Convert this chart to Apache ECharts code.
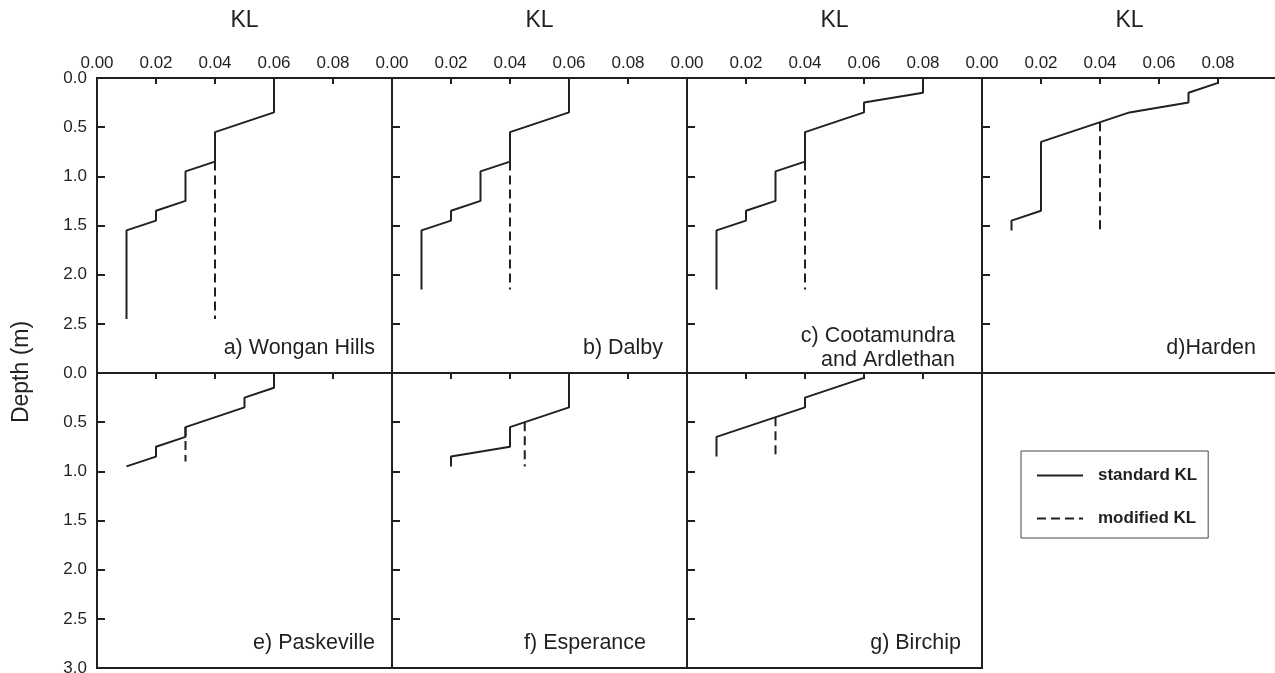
<!DOCTYPE html>
<html>
<head>
<meta charset="utf-8">
<title>KL profiles</title>
<script src="https://cdn.jsdelivr.net/npm/echarts@6/dist/echarts.min.js"></script>
<style>
  html, body { margin: 0; padding: 0; background: #fff; }
  #main { width: 1275px; height: 673px; }
</style>
</head>
<body>
<div id="main"></div>
<script>
// panel captions, top row a-d then bottom row e-g
var siteLabels = ['a) Wongan Hills', 'b) Dalby', 'c) Cootamundra\nand Ardlethan', 'd)Harden',
                  'e) Paskeville', 'f) Esperance', 'g) Birchip'];

// standard KL profiles, points are [KL, depth (m)]
var wonganStd = [[0.06, 0], [0.06, 0.35], [0.04, 0.55], [0.04, 0.85], [0.03, 0.95], [0.03, 1.25],
                 [0.02, 1.35], [0.02, 1.45], [0.01, 1.55], [0.01, 2.45]];
var dalbyStd = [[0.06, 0], [0.06, 0.35], [0.04, 0.55], [0.04, 0.85], [0.03, 0.95], [0.03, 1.25],
                [0.02, 1.35], [0.02, 1.45], [0.01, 1.55], [0.01, 2.15]];
var cootaStd = [[0.08, 0], [0.08, 0.15], [0.06, 0.25], [0.06, 0.35], [0.04, 0.55], [0.04, 0.85],
                [0.03, 0.95], [0.03, 1.25], [0.02, 1.35], [0.02, 1.45], [0.01, 1.55], [0.01, 2.15]];
var hardenStd = [[0.08, 0], [0.08, 0.05], [0.07, 0.15], [0.07, 0.25], [0.05, 0.35], [0.02, 0.65],
                 [0.02, 1.35], [0.01, 1.45], [0.01, 1.55]];
var paskeStd = [[0.06, 0], [0.06, 0.15], [0.05, 0.25], [0.05, 0.35], [0.03, 0.55], [0.03, 0.65],
                [0.02, 0.75], [0.02, 0.85], [0.01, 0.95]];
var esperStd = [[0.06, 0], [0.06, 0.35], [0.04, 0.55], [0.04, 0.75], [0.02, 0.85], [0.02, 0.95]];
var birchStd = [[0.06, 0], [0.06, 0.05], [0.04, 0.25], [0.04, 0.35], [0.01, 0.65], [0.01, 0.85]];

// modified KL, only where it leaves the standard profile
var wonganMod = [[0.04, 0.85], [0.04, 2.45]];
var dalbyMod = [[0.04, 0.85], [0.04, 2.15]];
var cootaMod = [[0.04, 0.85], [0.04, 2.15]];
var hardenMod = [[0.04, 0.45], [0.04, 1.55]];
var paskeMod = [[0.03, 0.55], [0.03, 0.9]];
var esperMod = [[0.045, 0.5], [0.045, 0.95]];
var birchMod = [[0.03, 0.45], [0.03, 0.85]];

var standardKL = [wonganStd, dalbyStd, cootaStd, hardenStd, paskeStd, esperStd, birchStd];
var modifiedKL = [wonganMod, dalbyMod, cootaMod, hardenMod, paskeMod, esperMod, birchMod];

// axis scales
var klMin = 0, klMax = 0.1, klStep = 0.02;
var depthMin = 0, depthMax = 3, depthStep = 0.5;

var ink = '#231f20';
var fontFam = '"Liberation Sans", Arial, Helvetica, sans-serif';

var panelLeft = [97, 392, 687, 982];
var panelTop = [78, 373];
var panelSize = 295;
// where each caption sits (right edge, middle)
var captionPos = [[375, 348], [663, 348], [955, 348], [1256, 348], [375, 643], [646, 643], [961, 643]];

var grids = [], xAxes = [], yAxes = [], series = [], graphics = [];

for (var i = 0; i < 7; i++) {
    var row = i < 4 ? 0 : 1;
    var col = i < 4 ? i : i - 4;
    grids.push({
        left: panelLeft[col],
        top: panelTop[row],
        width: panelSize,
        height: panelSize,
        show: true,
        borderColor: ink,
        borderWidth: 2,
        containLabel: false,
        outerBoundsMode: 'none'
    });
    xAxes.push({
        gridIndex: i,
        type: 'value',
        position: 'top',
        min: klMin,
        max: klMax,
        interval: klStep,
        name: row === 0 ? 'KL' : '',
        nameLocation: 'middle',
        nameGap: 46,
        nameTextStyle: { fontSize: 23, color: ink, fontFamily: fontFam },
        axisLine: { show: true, lineStyle: { color: ink, width: 2 } },
        axisTick: { show: true, inside: true, length: 6, lineStyle: { color: ink, width: 2 } },
        axisLabel: {
            show: row === 0,
            fontSize: 17,
            color: ink,
            fontFamily: fontFam,
            margin: 6,
            showMaxLabel: false,
            formatter: function (v) { return v.toFixed(2); }
        },
        splitLine: { show: false }
    });
    yAxes.push({
        gridIndex: i,
        type: 'value',
        inverse: true,
        min: depthMin,
        max: depthMax,
        interval: depthStep,
        axisLine: { show: true, lineStyle: { color: ink, width: 2 } },
        axisTick: { show: true, inside: true, length: 8, lineStyle: { color: ink, width: 2 } },
        axisLabel: {
            show: col === 0,
            fontSize: 17,
            color: ink,
            fontFamily: fontFam,
            margin: 10,
            showMaxLabel: row === 1,
            formatter: function (v) { return v.toFixed(1); }
        },
        splitLine: { show: false }
    });
    series.push({
        name: 'modified KL',
        type: 'line',
        xAxisIndex: i,
        yAxisIndex: i,
        data: modifiedKL[i],
        symbol: 'none',
        lineStyle: { color: ink, width: 2, type: [9, 5] },
        itemStyle: { color: ink },
        z: 2
    });
    series.push({
        name: 'standard KL',
        type: 'line',
        xAxisIndex: i,
        yAxisIndex: i,
        data: standardKL[i],
        symbol: 'none',
        lineStyle: { color: ink, width: 2 },
        itemStyle: { color: ink },
        z: 3
    });
    graphics.push({
        type: 'text',
        x: captionPos[i][0],
        y: captionPos[i][1],
        style: {
            text: siteLabels[i],
            fontSize: 21.5,
            lineHeight: 24,
            fontFamily: fontFam,
            fill: ink,
            align: 'right',
            verticalAlign: 'middle'
        }
    });
}

graphics.push({
    type: 'text',
    x: 22,
    y: 372,
    rotation: Math.PI / 2,
    style: {
        text: 'Depth (m)',
        fontSize: 23,
        fontFamily: fontFam,
        fill: ink,
        align: 'center',
        verticalAlign: 'middle'
    }
});

var chart = echarts.init(document.getElementById('main'), null, { renderer: 'canvas' });

var option = {
    animation: false,
    backgroundColor: '#fff',
    grid: grids,
    xAxis: xAxes,
    yAxis: yAxes,
    legend: {
        data: ['standard KL', 'modified KL'],
        orient: 'vertical',
        left: 1021,
        top: 451,
        padding: [16, 11, 11, 15],
        itemGap: 26,
        itemWidth: 46,
        itemHeight: 14,
        borderColor: '#444',
        borderWidth: 1,
        itemStyle: { opacity: 0 },
        textStyle: { fontSize: 17, fontWeight: 'bold', color: ink, fontFamily: fontFam, padding: [0, 0, 0, 10] }
    },
    graphic: graphics,
    series: series
};

chart.setOption(option);

window.addEventListener('resize', function () {
    chart.resize();
});
</script>
</body>
</html>
